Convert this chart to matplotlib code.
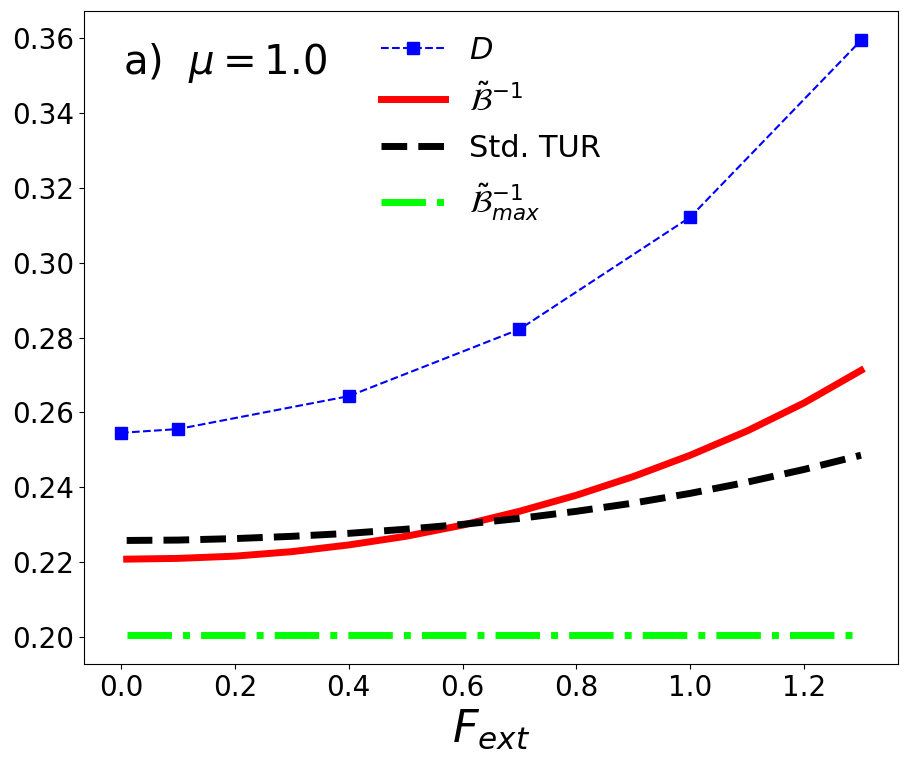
import matplotlib
matplotlib.use("Agg")
import matplotlib.pyplot as plt

# data
F_D = [0.0, 0.1, 0.4, 0.7, 1.0, 1.3]
D = [0.2545, 0.2555, 0.2643, 0.2822, 0.3122, 0.3595]

F_curve = [0.01, 0.1, 0.2, 0.3, 0.4, 0.5, 0.6, 0.7, 0.8, 0.9, 1.0, 1.1, 1.2, 1.3]
B_inv = [0.2207, 0.2209, 0.2215, 0.2227, 0.2245, 0.2268, 0.2298,
         0.2335, 0.2378, 0.2428, 0.2485, 0.2550, 0.2625, 0.2712]
std_tur = [0.2257, 0.2258, 0.2262, 0.2268, 0.2276, 0.2287, 0.2300,
           0.2316, 0.2335, 0.2357, 0.2383, 0.2413, 0.2447, 0.2485]
B_max = [0.2005] * len(F_curve)

fig, ax = plt.subplots(figsize=(9.08, 7.61), dpi=100)
fig.subplots_adjust(left=0.0925, right=0.989, top=0.986, bottom=0.127)

ax.plot(F_D, D, 's--', color='blue', lw=1.5, ms=8, label=r'$D$')
ax.plot(F_curve, B_inv, '-', color='red', lw=5, label=r'$\tilde{\mathcal{B}}^{-1}$')
ax.plot(F_curve, std_tur, '--', color='black', lw=5, label='Std. TUR')
ax.plot(F_curve, B_max, '-.', color='lime', lw=5, label=r'$\tilde{\mathcal{B}}^{-1}_{max}$')

ax.text(0.048, 0.92, r'a)  $\mu=1.0$', transform=ax.transAxes,
        fontsize=29, va='center')
ax.set_xlabel(r'$F_{ext}$', fontsize=32)
ax.tick_params(labelsize=20)
ax.legend(loc='upper center', frameon=False, fontsize=22,
          borderaxespad=0.43, labelspacing=0.6, handlelength=2.1)

fig.savefig('out.png', dpi=100)
